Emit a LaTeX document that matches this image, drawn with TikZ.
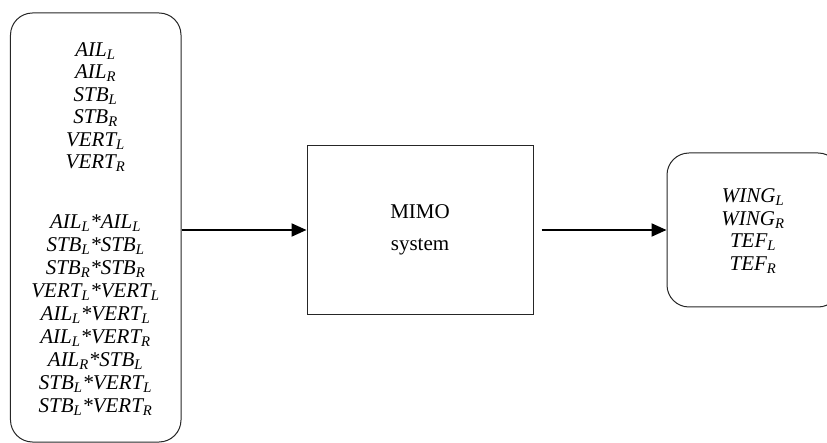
\documentclass[tikz,border=0pt]{standalone}
\usepackage{fontspec}
\setmainfont{Liberation Serif}
\usetikzlibrary{arrows.meta}
\newcommand{\lsub}[1]{\textsubscript{#1}}
\begin{document}
\begin{tikzpicture}[x=1bp,y=-1bp,
  boxline/.style={draw=black!85, line width=1bp},
  roundbox/.style={boxline, rounded corners=22bp, inner sep=0pt},
  vars/.style={inner sep=0pt, align=center, font=\fontsize{21bp}{22.5bp}\selectfont\itshape},
  flow/.style={line width=2bp, -{Triangle[length=15bp,width=13bp]}}]
\useasboundingbox (0,0) rectangle (827,443);
\node[roundbox, minimum width=170.5bp, minimum height=429bp] (in) at (95.75,227.5) {};
\node[vars] (ina) at (95.5,107) {AIL\lsub{L}\\AIL\lsub{R}\\STB\lsub{L}\\STB\lsub{R}\\VERT\lsub{L}\\VERT\lsub{R}};
\node[vars, font=\fontsize{21bp}{23bp}\selectfont\itshape] (inb) at (95.5,315) {AIL\lsub{L}*AIL\lsub{L}\\STB\lsub{L}*STB\lsub{L}\\STB\lsub{R}*STB\lsub{R}\\VERT\lsub{L}*VERT\lsub{L}\\AIL\lsub{L}*VERT\lsub{L}\\AIL\lsub{L}*VERT\lsub{R}\\AIL\lsub{R}*STB\lsub{L}\\STB\lsub{L}*VERT\lsub{L}\\STB\lsub{L}*VERT\lsub{R}};
\node[boxline, minimum width=226bp, minimum height=168bp, inner sep=0pt, align=center, font=\fontsize{21bp}{32bp}\selectfont] (mimo) at (420,230) {MIMO\\system};
\node[roundbox, minimum width=173bp, minimum height=154bp] (out) at (753.5,230) {};
\node[vars, font=\fontsize{21bp}{22.7bp}\selectfont\itshape] (outt) at (753,231) {WING\lsub{L}\\WING\lsub{R}\\TEF\lsub{L}\\TEF\lsub{R}};
\draw[flow] (in.east |- mimo.west) -- (mimo.west);
\draw[flow] ([xshift=8bp]mimo.east) -- (out.west);
\end{tikzpicture}
\end{document}
